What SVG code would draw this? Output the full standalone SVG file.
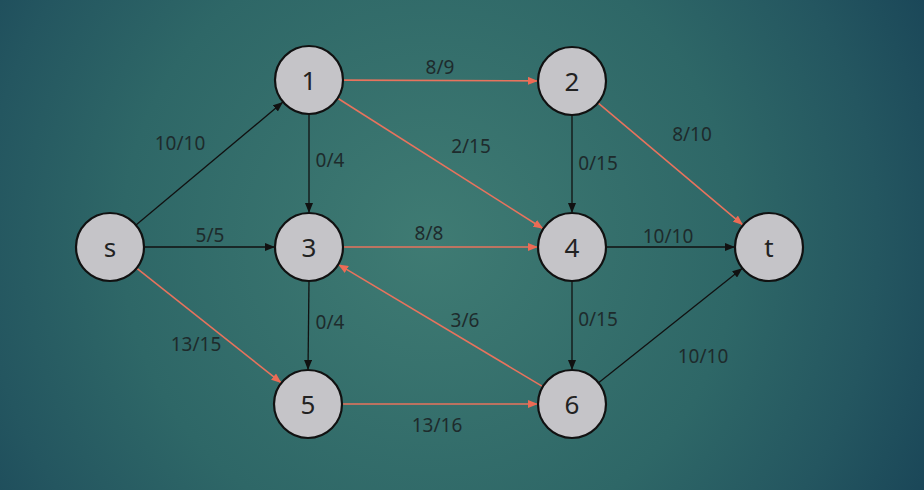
<svg xmlns="http://www.w3.org/2000/svg" width="924" height="490" viewBox="0 0 924 490">
<defs>
<radialGradient id="bg" gradientUnits="userSpaceOnUse" cx="430" cy="240" r="560">
<stop offset="0" stop-color="#3f7b73"/>
<stop offset="0.55" stop-color="#2e6767"/>
<stop offset="0.8" stop-color="#245660"/>
<stop offset="1" stop-color="#1a4658"/>
</radialGradient>
<marker id="ab" viewBox="0 0 10 8" refX="10" refY="4" markerWidth="10" markerHeight="8" markerUnits="userSpaceOnUse" orient="auto">
<path d="M0,0 L10,4 L0,8 z" fill="#111"/>
</marker>
<marker id="ar" viewBox="0 0 10 8" refX="10" refY="4" markerWidth="10" markerHeight="8" markerUnits="userSpaceOnUse" orient="auto">
<path d="M0,0 L10,4 L0,8 z" fill="#ec6b55"/>
</marker>
</defs>
<style>
.b{stroke:#111;stroke-width:1.3;fill:none;marker-end:url(#ab)}
.r{stroke:#e8735d;stroke-width:1.6;fill:none;marker-end:url(#ar)}
.n circle{fill:#c5c4c8;stroke:#111;stroke-width:2.2}
.n text{font-family:"Noto Sans","DejaVu Sans",sans-serif;font-size:26px;fill:#222;text-anchor:middle;dominant-baseline:central}
.l{font-family:"Noto Sans","DejaVu Sans",sans-serif;font-size:19px;fill:#1e2b2c;text-anchor:middle;dominant-baseline:central}
</style>
<rect width="924" height="490" fill="url(#bg)"/>
<g id="connectors">
<line class="b" x1="136" y1="225.1" x2="283" y2="102"/>
<line class="b" x1="144" y1="247" x2="275" y2="247"/>
<line class="r" x1="136.6" y1="268.1" x2="281.4" y2="382.9"/>
<line class="r" x1="343" y1="80.1" x2="538" y2="80.9"/>
<line class="b" x1="309" y1="114" x2="309" y2="213"/>
<line class="r" x1="337.7" y1="98.2" x2="543.3" y2="228.8"/>
<line class="b" x1="572" y1="115" x2="572" y2="213"/>
<line class="r" x1="598" y1="102.9" x2="743" y2="225.1"/>
<line class="r" x1="343" y1="247" x2="538" y2="247"/>
<line class="b" x1="309" y1="281" x2="308" y2="370"/>
<line class="b" x1="606" y1="247" x2="735" y2="247"/>
<line class="b" x1="572" y1="281" x2="572" y2="370"/>
<line class="r" x1="342" y1="404" x2="538" y2="404"/>
<line class="r" x1="542.8" y1="386.6" x2="338.2" y2="264.4"/>
<line class="b" x1="598.6" y1="382.8" x2="742.4" y2="268.2"/>
</g>
<g id="labels">
<text class="l" x="180" y="143">10/10</text>
<text class="l" x="440" y="67">8/9</text>
<text class="l" x="330" y="160">0/4</text>
<text class="l" x="471" y="146">2/15</text>
<text class="l" x="598" y="163">0/15</text>
<text class="l" x="692" y="134">8/10</text>
<text class="l" x="210" y="235">5/5</text>
<text class="l" x="429" y="233">8/8</text>
<text class="l" x="668" y="236">10/10</text>
<text class="l" x="330" y="322">0/4</text>
<text class="l" x="465" y="320">3/6</text>
<text class="l" x="598" y="319">0/15</text>
<text class="l" x="196" y="344">13/15</text>
<text class="l" x="703" y="356">10/10</text>
<text class="l" x="437" y="425">13/16</text>
</g>
<g id="node-s" class="n"><circle cx="110" cy="247" r="34"/><text x="110" y="247">s</text></g>
<g id="node-1" class="n"><circle cx="309" cy="80" r="34"/><text x="309" y="80">1</text></g>
<g id="node-2" class="n"><circle cx="572" cy="81" r="34"/><text x="572" y="81">2</text></g>
<g id="node-3" class="n"><circle cx="309" cy="247" r="34"/><text x="309" y="247">3</text></g>
<g id="node-4" class="n"><circle cx="572" cy="247" r="34"/><text x="572" y="247">4</text></g>
<g id="node-t" class="n"><circle cx="769" cy="247" r="34"/><text x="769" y="247">t</text></g>
<g id="node-5" class="n"><circle cx="308" cy="404" r="34"/><text x="308" y="404">5</text></g>
<g id="node-6" class="n"><circle cx="572" cy="404" r="34"/><text x="572" y="404">6</text></g>
</svg>
